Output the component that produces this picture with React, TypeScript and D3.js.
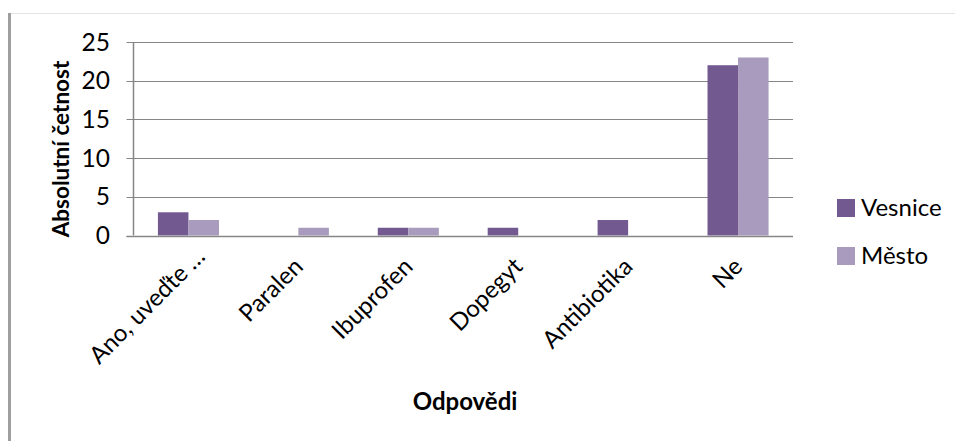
import React, { useEffect, useRef } from "react";
import * as d3 from "d3";

const categories = ["Ano, uveďte …", "Paralen", "Ibuprofen", "Dopegyt", "Antibiotika", "Ne"];
const seriesNames = ["Vesnice", "Město"];
const vesnice = [3, 0, 1, 1, 2, 22];
const mesto = [2, 1, 1, 0, 0, 23];
const yTicks = [0, 5, 10, 15, 20, 25];
const colors = ["#725990", "#a99bbd"];

const App = () => {
  const svgRef = useRef<SVGSVGElement | null>(null);
  const width = 955;
  const height = 441;
  const plot = { left: 133.5, right: 793, top: 42, bottom: 235.5 };
  const font = "Lato, 'Open Sans', sans-serif";

  useEffect(() => {
    const svg = d3.select(svgRef.current).attr("width", width).attr("height", height);
    svg.selectAll("*").remove();

    const values = [vesnice, mesto];

    // frame
    svg
      .append("line")
      .attr("x1", 8)
      .attr("x2", width)
      .attr("y1", 13.5)
      .attr("y2", 13.5)
      .attr("stroke", "#e4e4e4")
      .attr("stroke-width", 1);
    svg
      .append("line")
      .attr("x1", 9.5)
      .attr("x2", 9.5)
      .attr("y1", 13)
      .attr("y2", height)
      .attr("stroke", "#9e9e9e")
      .attr("stroke-width", 3);

    const x = d3.scaleBand().domain(categories).range([plot.left, plot.right]).padding(0);
    const xs = d3
      .scaleBand()
      .domain(seriesNames)
      .range([0, x.bandwidth()])
      .paddingInner(0)
      .paddingOuter(0.8);
    const y = d3.scaleLinear().domain([0, 25]).range([plot.bottom, plot.top]);

    // gridlines
    svg
      .append("g")
      .selectAll("line")
      .data(yTicks)
      .enter()
      .append("line")
      .attr("x1", plot.left - 7)
      .attr("x2", plot.right)
      .attr("y1", (d) => Math.round(y(d)) + 0.5)
      .attr("y2", (d) => Math.round(y(d)) + 0.5)
      .attr("stroke", "#868686")
      .attr("stroke-width", 1);

    // y labels
    svg
      .append("g")
      .selectAll("text")
      .data(yTicks)
      .enter()
      .append("text")
      .attr("x", 110)
      .attr("y", (d) => y(d))
      .attr("dy", "0.35em")
      .attr("text-anchor", "end")
      .style("font-family", font)
      .style("font-size", "24.5px")
      .attr("fill", "#000")
      .text((d) => d);

    // bars
    svg
      .selectAll("g.series")
      .data(seriesNames)
      .enter()
      .append("g")
      .attr("class", "series")
      .attr("fill", (d, i) => colors[i])
      .selectAll("rect")
      .data((d, i) => values[i].map((v, j) => ({ s: d, cat: categories[j], v })))
      .enter()
      .append("rect")
      .attr("x", (d) => (x(d.cat) as number) + (xs(d.s) as number))
      .attr("y", (d) => y(d.v))
      .attr("width", xs.bandwidth())
      .attr("height", (d) => y(0) - y(d.v));

    // axis lines
    svg
      .append("line")
      .attr("x1", plot.left)
      .attr("x2", plot.left)
      .attr("y1", plot.top)
      .attr("y2", plot.bottom)
      .attr("stroke", "#868686")
      .attr("stroke-width", 1.5);
    svg
      .append("line")
      .attr("x1", plot.left - 7)
      .attr("x2", plot.right)
      .attr("y1", Math.round(y(0)) + 0.5)
      .attr("y2", Math.round(y(0)) + 0.5)
      .attr("stroke", "#868686")
      .attr("stroke-width", 1.5);

    // x labels, rotated
    svg
      .append("g")
      .selectAll("text")
      .data(categories)
      .enter()
      .append("text")
      .attr("transform", (d, i) => {
        const cx = (x(d) as number) + x.bandwidth() / 2 + (i === 0 ? 18 : 6);
        const cy = i === 0 ? 258 : 268;
        return `translate(${cx},${cy}) rotate(-45)`;
      })
      .attr("text-anchor", "end")
      .style("font-family", font)
      .style("font-size", "24px")
      .attr("fill", "#000")
      .text((d) => d);

    // axis titles
    svg
      .append("text")
      .attr("transform", `translate(69,149) rotate(-90)`)
      .attr("text-anchor", "middle")
      .style("font-family", font)
      .style("font-size", "22.5px")
      .style("font-weight", "bold")
      .text("Absolutní četnost");
    svg
      .append("text")
      .attr("x", 465)
      .attr("y", 410)
      .attr("text-anchor", "middle")
      .style("font-family", font)
      .style("font-size", "24px")
      .style("font-weight", "bold")
      .text("Odpovědi");

    // legend
    const legend = svg
      .append("g")
      .selectAll("g")
      .data(seriesNames)
      .enter()
      .append("g")
      .attr("transform", (d, i) => `translate(837,${199 + i * 48})`);
    legend
      .append("rect")
      .attr("width", 18)
      .attr("height", 18)
      .attr("fill", (d, i) => colors[i]);
    legend
      .append("text")
      .attr("x", 24)
      .attr("y", 9)
      .attr("dy", "0.35em")
      .style("font-family", font)
      .style("font-size", "24px")
      .text((d) => d);
  }, []);

  return <svg ref={svgRef} style={{ position: "absolute", left: 0, top: 0, background: "#fff" }}></svg>;
};

export default App;
